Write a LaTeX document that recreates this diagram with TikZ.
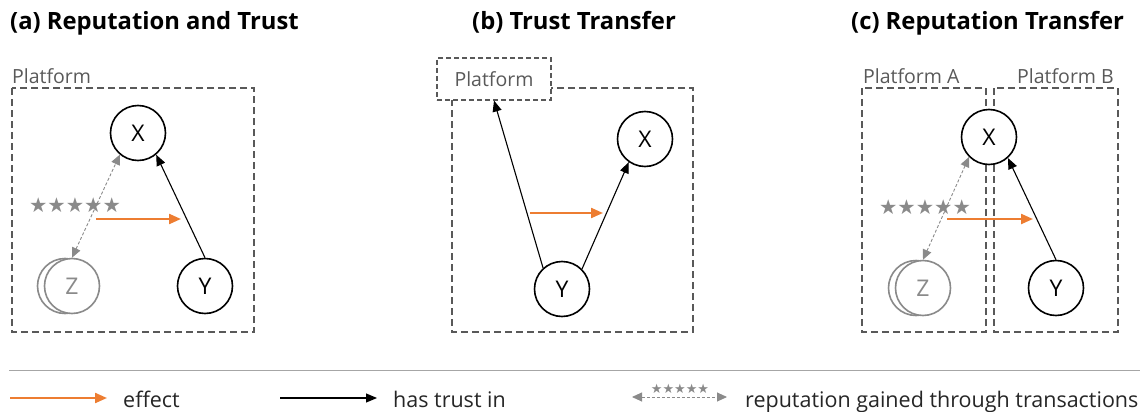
\documentclass[tikz,border=0pt]{standalone}
\usepackage{fontspec}
\setmainfont{Open Sans}
\newfontfamily\symfont{DejaVu Sans}
\usetikzlibrary{arrows.meta}

\definecolor{effectorange}{HTML}{ED7D31}
\definecolor{boxgray}{HTML}{595959}
\definecolor{stargray}{HTML}{8A8A8A}
\definecolor{rulegray}{HTML}{A6A6A6}

\begin{document}
\begin{tikzpicture}[x=1pt, y=-1pt, every node/.style={inner sep=0pt},
	agent/.style={circle, draw, line width=1.6pt, fill=white, minimum size=55pt, font=\fontsize{23}{23}\selectfont},
	ghost/.style={agent, draw=stargray, text=stargray},
	platform/.style={draw=boxgray, dash pattern=on 7pt off 4pt, line width=1.6pt},
	label/.style={text=boxgray, font=\fontsize{19.5}{20}\selectfont, anchor=base west},
	title/.style={font=\fontsize{23.8}{24}\selectfont\bfseries, anchor=base west},
	legendtext/.style={text=black!85, font=\fontsize{21.5}{22}\selectfont, anchor=base west},
	trust/.style={-{Triangle[length=11pt,width=9pt]}, line width=1.1pt},
	effect/.style={-{Triangle[length=12pt,width=10pt]}, draw=effectorange, line width=2.2pt},
	rep/.style={{Triangle[length=10pt,width=9pt]}-{Triangle[length=10pt,width=9pt]}, draw=stargray, dash pattern=on 3pt off 2pt, line width=0.9pt},
	stars/.style={text=stargray, font=\fontsize{20.5}{21}\symfont}]

\useasboundingbox (0,0) rectangle (1148,412);

% Titles
\node[title] (ta) at (10,30) {(a) Reputation and Trust};
\node[title] (tb) at (472,30) {(b) Trust Transfer};
\node[title] (tc) at (851,30) {(c) Reputation Transfer};

% Panel (a): one platform
\draw[platform] (12,88) rectangle (254,332);
\node[label] (pa) at (12,83) {Platform};
\node[agent] (xa) at (138,133) {X};
\node[agent] (ya) at (205,286) {Y};
\node[ghost] (zba) at (65,286) {};
\node[ghost] (za) at (72,286) {Z};
\node[stars] (sa) at (75,205) {★★★★★};
\draw[rep] (za.north) -- (xa.-130);
\draw[trust] (ya.north) -- (xa.-50);
\coordinate (ea1) at (96,219);
\coordinate (ea2) at (181,219);
\draw[effect] (ea1) -- (ea2);

% Panel (b): trust moves to the platform
\draw[platform] (452,88) rectangle (693,332);
\node[label, draw=boxgray, dash pattern=on 5pt off 3pt, line width=1.1pt, fill=white,
	minimum width=114pt, minimum height=42pt, anchor=center] (pb) at (494,79) {Platform};
\node[agent] (xb) at (645,139) {X};
\node[agent] (yb) at (562,289) {Y};
\draw[trust] (yb.132) -- (pb.south);
\draw[trust] (yb.45) -- (xb.-125);
\coordinate (eb1) at (530,213);
\coordinate (eb2) at (603,213);
\draw[effect] (eb1) -- (eb2);

% Panel (c): two platforms
\draw[platform] (862,88) rectangle (986,332);
\draw[platform] (994,88) rectangle (1118,332);
\node[label] (pca) at (863,84) {Platform A};
\node[label] (pcb) at (1017,84) {Platform B};
\node[agent] (xc) at (989,137) {X};
\node[agent] (yc) at (1056,288) {Y};
\node[ghost] (zbc) at (916,288) {};
\node[ghost] (zc) at (923,288) {Z};
\node[stars] (sc) at (925,207) {★★★★★};
\draw[rep] (zc.north) -- (xc.-135);
\draw[trust] (yc.north) -- (xc.-48);
\coordinate (ec1) at (947,219);
\coordinate (ec2) at (1033,219);
\draw[effect] (ec1) -- (ec2);

% Legend
\coordinate (r1) at (9,370);
\coordinate (r2) at (1140,370);
\draw[rulegray, line width=1pt] (r1) -- (r2);
\coordinate (le1) at (10,398);
\coordinate (le2) at (107,398);
\draw[effect] (le1) -- (le2);
\node[legendtext] (lte) at (123,407) {effect};
\coordinate (lt1) at (280,398);
\coordinate (lt2) at (377,398);
\draw[trust] (lt1) -- (lt2);
\node[legendtext] (ltt) at (393,407) {has trust in};
\coordinate (lr1) at (632,397);
\coordinate (lr2) at (727,397);
\draw[rep] (lr1) -- (lr2);
\node[stars, font=\fontsize{13}{13}\symfont] (ls) at (680,389) {★★★★★};
\node[legendtext] (ltr) at (745,407) {reputation gained through transactions};

\end{tikzpicture}
\end{document}
